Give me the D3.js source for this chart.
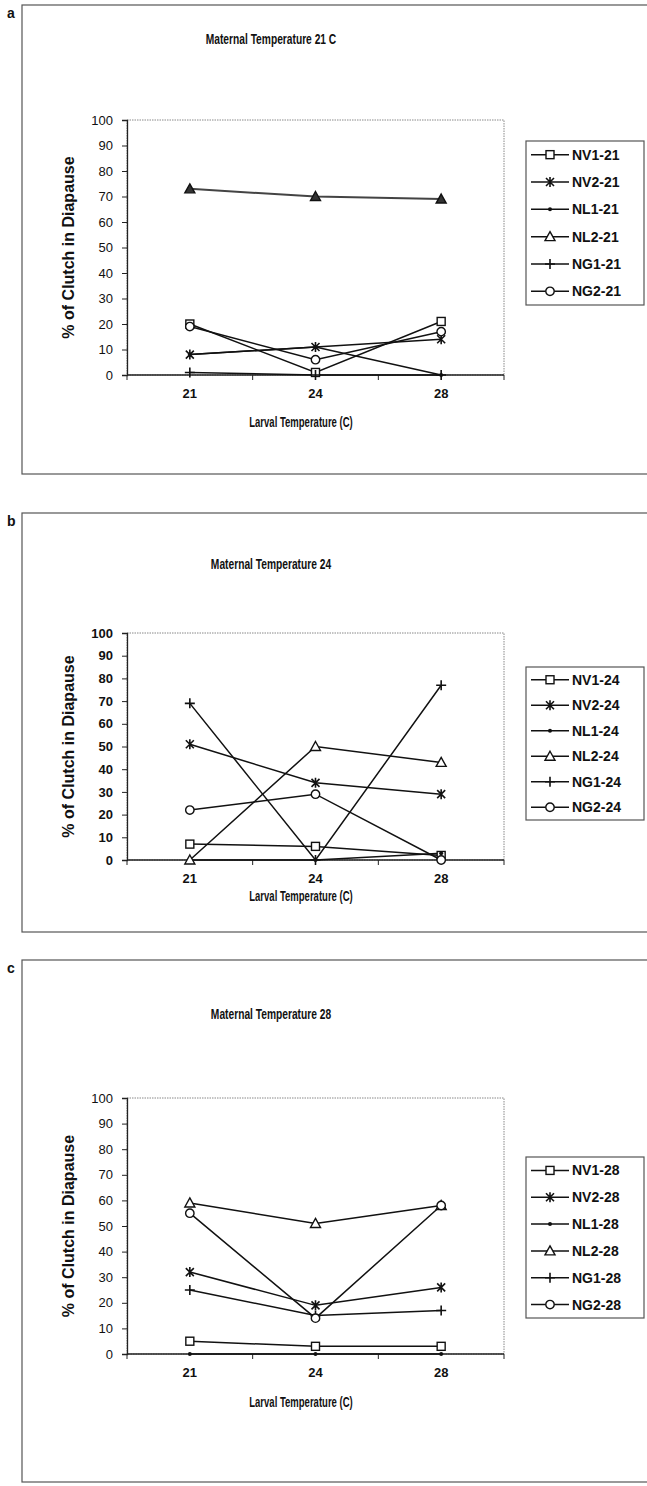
<!DOCTYPE html>
<html>
<head>
<meta charset="utf-8">
<script src="https://cdn.jsdelivr.net/npm/d3@7"></script>
<style>
  html, body { margin: 0; padding: 0; background: #fff; }
  svg { display: block; }
  text { font-family: "Liberation Sans", Arial, sans-serif; fill: #111; }
</style>
</head>
<body>
<svg id="fig" width="647" height="1486"></svg>
<script>
// Larval rearing temperatures (category axis) and value axis ticks
const larvalTemps = ["21", "24", "28"];
const yTickValues = [0, 10, 20, 30, 40, 50, 60, 70, 80, 90, 100];

// One panel per maternal temperature
const panelLetters = ["a", "b", "c"];
const panelTitles = ["Maternal Temperature 21 C", "Maternal Temperature 24", "Maternal Temperature 28"];
const maternalSuffix = ["21", "24", "28"];

// Lines and their marker symbols
const lineCodes = ["NV1", "NV2", "NL1", "NL2", "NG1", "NG2"];
const lineMarkers = ["square", "asterisk", "dot", "triangle", "plus", "circle"];

// % of clutch in diapause at larval 21, 24, 28 for each line (order of lineCodes)
const valuesMat21 = [[20, 1, 21], [8, 11, 14], [8, 11, 0], [73, 70, 69], [1, 0, 0], [19, 6, 17]];
const valuesMat24 = [[7, 6, 2], [51, 34, 29], [0, 0, 3], [0, 50, 43], [69, 0, 77], [22, 29, 0]];
const valuesMat28 = [[5, 3, 3], [32, 19, 26], [0, 0, 0], [59, 51, 58], [25, 15, 17], [55, 14, 58]];
const panelValues = [valuesMat21, valuesMat24, valuesMat28];

const svg = d3.select("#fig");

// vertical layout of each panel
const layouts = [
  { frameTop: 5,   frameBottom: 474,  titleY: 44,   plotTop: 120,  plotBottom: 375,  xLabelY: 398,  xTitleY: 427,  legTop: 141,  legBottom: 305,  letterY: 18 },
  { frameTop: 513, frameBottom: 932,  titleY: 569,  plotTop: 633,  plotBottom: 860,  xLabelY: 883,  xTitleY: 901,  legTop: 667,  legBottom: 820,  letterY: 526 },
  { frameTop: 960, frameBottom: 1482, titleY: 1019, plotTop: 1098, plotBottom: 1354, xLabelY: 1377, xTitleY: 1407, legTop: 1157, legBottom: 1318, letterY: 973 }
];

const plotLeft = 127, plotRight = 504;
const frameLeft = 22;

function drawMarker(g, shape, cx, cy, filled) {
  const m = g.append("g").attr("transform", `translate(${cx},${cy})`);
  const sw = 1.4;
  if (shape === "square") {
    m.append("rect").attr("x", -4).attr("y", -4).attr("width", 8).attr("height", 8)
      .attr("fill", "#fff").attr("stroke", "#111").attr("stroke-width", sw);
  } else if (shape === "asterisk") {
    const p = d3.path();
    p.moveTo(-4, -4); p.lineTo(4, 4);
    p.moveTo(-4, 4); p.lineTo(4, -4);
    p.moveTo(0, -5); p.lineTo(0, 5);
    m.append("path").attr("d", p.toString()).attr("fill", "none")
      .attr("stroke", "#111").attr("stroke-width", 1.6);
  } else if (shape === "dot") {
    m.append("circle").attr("r", 2).attr("fill", "#111");
  } else if (shape === "triangle") {
    m.append("path").attr("d", "M0,-5L5,4L-5,4Z")
      .attr("fill", filled ? "#333" : "#fff").attr("stroke", "#111").attr("stroke-width", sw);
  } else if (shape === "plus") {
    const p = d3.path();
    p.moveTo(-5, 0); p.lineTo(5, 0);
    p.moveTo(0, -5); p.lineTo(0, 5);
    m.append("path").attr("d", p.toString()).attr("fill", "none")
      .attr("stroke", "#111").attr("stroke-width", 1.6);
  } else if (shape === "circle") {
    m.append("circle").attr("r", 4.2).attr("fill", "#fff")
      .attr("stroke", "#111").attr("stroke-width", sw);
  }
}

panelLetters.forEach((letter, pi) => {
  const L = layouts[pi];
  const values = panelValues[pi];
  const g = svg.append("g");

  // chart frame (runs past the right edge of the page)
  g.append("rect")
    .attr("x", frameLeft).attr("y", L.frameTop)
    .attr("width", 700).attr("height", L.frameBottom - L.frameTop)
    .attr("fill", "none").attr("stroke", "#555").attr("stroke-width", 1.2);

  g.append("text").attr("x", 7).attr("y", L.letterY)
    .attr("font-size", 14).attr("font-weight", "bold").text(letter);

  // title, set in a condensed face
  g.append("g").attr("transform", `translate(271,${L.titleY}) scale(0.66,1)`)
    .append("text").attr("text-anchor", "middle")
    .attr("font-size", 15.5).attr("font-weight", "bold")
    .text(panelTitles[pi]);

  const x = d3.scaleBand().domain(larvalTemps).range([plotLeft, plotRight]);
  const y = d3.scaleLinear().domain([0, 100]).range([L.plotBottom, L.plotTop]);

  // plot area border
  g.append("rect")
    .attr("x", plotLeft).attr("y", L.plotTop)
    .attr("width", plotRight - plotLeft).attr("height", L.plotBottom - L.plotTop)
    .attr("fill", "none").attr("stroke", "#888").attr("stroke-width", 1)
    .attr("stroke-dasharray", "1.5,1");

  // value axis
  const yAxis = d3.axisLeft(y).tickValues(yTickValues).tickSize(5).tickPadding(9);
  const ya = g.append("g").attr("transform", `translate(${plotLeft},0)`).call(yAxis);
  ya.select(".domain").attr("stroke", "#222").attr("stroke-width", 1.3);
  ya.selectAll(".tick line").attr("stroke", "#222");
  ya.selectAll(".tick text").attr("font-size", 13).attr("fill", "#111")
    .attr("font-weight", pi === 1 ? "bold" : "normal")
    .attr("font-family", "Liberation Sans, Arial, sans-serif");

  // category axis: ticks between categories, labels at centres
  const xa = g.append("g").attr("transform", `translate(0,${L.plotBottom})`);
  xa.append("line").attr("x1", plotLeft).attr("x2", plotRight)
    .attr("stroke", "#222").attr("stroke-width", 1.3);
  const bounds = larvalTemps.map(c => x(c)).concat([plotRight]);
  xa.selectAll("line.tk").data(bounds).join("line").attr("class", "tk")
    .attr("x1", d => d).attr("x2", d => d).attr("y1", 0).attr("y2", 5)
    .attr("stroke", "#222");
  g.selectAll("text.xl").data(larvalTemps).join("text").attr("class", "xl")
    .attr("x", d => x(d) + x.bandwidth() / 2).attr("y", L.xLabelY)
    .attr("text-anchor", "middle").attr("font-size", 13).attr("font-weight", "bold")
    .text(d => d);

  // axis titles
  g.append("g").attr("transform", `translate(301,${L.xTitleY}) scale(0.68,1)`)
    .append("text").attr("text-anchor", "middle")
    .attr("font-size", 14).attr("font-weight", "bold")
    .text("Larval Temperature (C)");
  g.append("text")
    .attr("transform", `translate(74,${(L.plotTop + L.plotBottom) / 2}) rotate(-90)`)
    .attr("text-anchor", "middle").attr("font-size", 16).attr("font-weight", "bold")
    .text("% of Clutch in Diapause");

  // series lines and markers
  const line = d3.line()
    .x((d, i) => x(larvalTemps[i]) + x.bandwidth() / 2)
    .y(d => y(d));
  values.forEach((vals, si) => {
    const isNL2a = pi === 0 && si === 3;
    g.append("path").datum(vals).attr("d", line)
      .attr("fill", "none").attr("stroke", isNL2a ? "#444" : "#111")
      .attr("stroke-width", isNL2a ? 2 : 1.5);
  });
  values.forEach((vals, si) => {
    vals.forEach((v, i) => {
      drawMarker(g, lineMarkers[si], x(larvalTemps[i]) + x.bandwidth() / 2, y(v), pi === 0);
    });
  });

  // legend
  const legX = 526, legW = 118;
  g.append("rect").attr("x", legX).attr("y", L.legTop)
    .attr("width", legW).attr("height", L.legBottom - L.legTop)
    .attr("fill", "#fff").attr("stroke", "#555").attr("stroke-width", 1.2);
  const step = (L.legBottom - L.legTop) / lineCodes.length;
  lineCodes.forEach((code, si) => {
    const cy = L.legTop + step * (si + 0.5);
    g.append("line").attr("x1", legX + 5).attr("x2", legX + 43).attr("y1", cy).attr("y2", cy)
      .attr("stroke", "#111").attr("stroke-width", 1.5);
    drawMarker(g, lineMarkers[si], legX + 24, cy, false);
    g.append("text").attr("x", legX + 46).attr("y", cy + 5)
      .attr("font-size", 14).attr("font-weight", "bold")
      .text(`${code}-${maternalSuffix[pi]}`);
  });
});
</script>
</body>
</html>
